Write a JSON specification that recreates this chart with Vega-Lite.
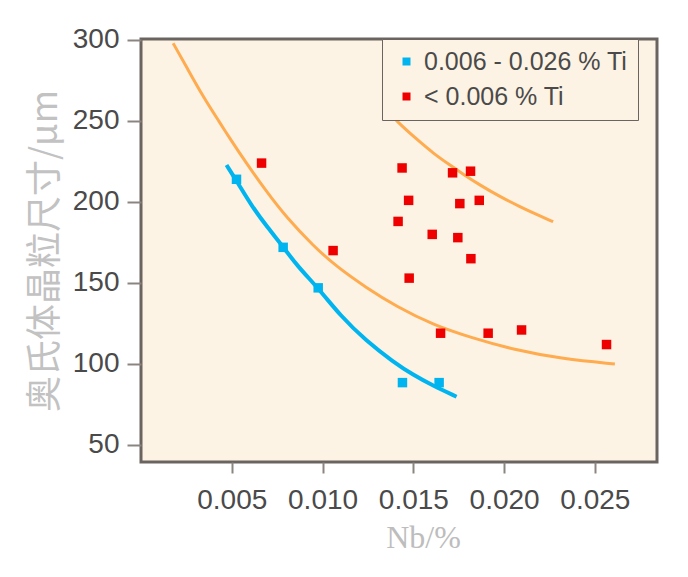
{
  "$schema": "https://vega.github.io/schema/vega-lite/v6.json",
  "width": 516,
  "height": 423,
  "autosize": "none",
  "padding": {"left": 141, "top": 39, "right": 31, "bottom": 115},
  "background": "white",
  "config": {
    "view": {"fill": "#fdf3e4", "stroke": "#6a6460", "strokeWidth": 3},
    "font": "Liberation Sans"
  },
  "datasets": {
    "points": [
      {"nb": 0.00664, "size": 224, "group": "< 0.006 % Ti"},
      {"nb": 0.01438, "size": 221, "group": "< 0.006 % Ti"},
      {"nb": 0.01716, "size": 218, "group": "< 0.006 % Ti"},
      {"nb": 0.01815, "size": 219, "group": "< 0.006 % Ti"},
      {"nb": 0.01474, "size": 201, "group": "< 0.006 % Ti"},
      {"nb": 0.01756, "size": 199, "group": "< 0.006 % Ti"},
      {"nb": 0.01863, "size": 201, "group": "< 0.006 % Ti"},
      {"nb": 0.01416, "size": 188, "group": "< 0.006 % Ti"},
      {"nb": 0.01604, "size": 180, "group": "< 0.006 % Ti"},
      {"nb": 0.01745, "size": 178, "group": "< 0.006 % Ti"},
      {"nb": 0.01817, "size": 165, "group": "< 0.006 % Ti"},
      {"nb": 0.01058, "size": 170, "group": "< 0.006 % Ti"},
      {"nb": 0.01477, "size": 153, "group": "< 0.006 % Ti"},
      {"nb": 0.0165, "size": 119, "group": "< 0.006 % Ti"},
      {"nb": 0.01912, "size": 119, "group": "< 0.006 % Ti"},
      {"nb": 0.02096, "size": 121, "group": "< 0.006 % Ti"},
      {"nb": 0.02564, "size": 112, "group": "< 0.006 % Ti"},
      {"nb": 0.00526, "size": 214, "group": "0.006 - 0.026 % Ti"},
      {"nb": 0.00783, "size": 172, "group": "0.006 - 0.026 % Ti"},
      {"nb": 0.00976, "size": 147, "group": "0.006 - 0.026 % Ti"},
      {"nb": 0.0144, "size": 88.5, "group": "0.006 - 0.026 % Ti"},
      {"nb": 0.01642, "size": 88.5, "group": "0.006 - 0.026 % Ti"}
    ],
    "curves": [
      {"curve": "blue", "nb": 0.00471, "size": 222.8},
      {"curve": "blue", "nb": 0.00535, "size": 211.5},
      {"curve": "blue", "nb": 0.00609, "size": 197.6},
      {"curve": "blue", "nb": 0.007, "size": 183.8},
      {"curve": "blue", "nb": 0.00783, "size": 172.4},
      {"curve": "blue", "nb": 0.00856, "size": 161.1},
      {"curve": "blue", "nb": 0.00985, "size": 145.7},
      {"curve": "blue", "nb": 0.01095, "size": 130.2},
      {"curve": "blue", "nb": 0.01242, "size": 114.0},
      {"curve": "blue", "nb": 0.01389, "size": 101.4},
      {"curve": "blue", "nb": 0.01499, "size": 93.2},
      {"curve": "blue", "nb": 0.01609, "size": 86.6},
      {"curve": "blue", "nb": 0.01738, "size": 79.8},
      {"curve": "low", "nb": 0.00177, "size": 298.0},
      {"curve": "low", "nb": 0.0025, "size": 283.5},
      {"curve": "low", "nb": 0.00342, "size": 265.0},
      {"curve": "low", "nb": 0.00434, "size": 249.0},
      {"curve": "low", "nb": 0.00489, "size": 239.3},
      {"curve": "low", "nb": 0.00581, "size": 223.8},
      {"curve": "low", "nb": 0.00691, "size": 206.4},
      {"curve": "low", "nb": 0.00801, "size": 190.5},
      {"curve": "low", "nb": 0.00948, "size": 173.0},
      {"curve": "low", "nb": 0.01077, "size": 160.1},
      {"curve": "low", "nb": 0.01242, "size": 147.0},
      {"curve": "low", "nb": 0.01407, "size": 135.4},
      {"curve": "low", "nb": 0.01609, "size": 124.1},
      {"curve": "low", "nb": 0.01829, "size": 115.9},
      {"curve": "low", "nb": 0.0205, "size": 108.9},
      {"curve": "low", "nb": 0.02325, "size": 103.0},
      {"curve": "low", "nb": 0.0261, "size": 100.0},
      {"curve": "high", "nb": 0.01343, "size": 258.0},
      {"curve": "high", "nb": 0.01415, "size": 249.0},
      {"curve": "high", "nb": 0.01518, "size": 238.8},
      {"curve": "high", "nb": 0.01609, "size": 230.1},
      {"curve": "high", "nb": 0.01701, "size": 222.8},
      {"curve": "high", "nb": 0.01774, "size": 217.2},
      {"curve": "high", "nb": 0.01866, "size": 210.5},
      {"curve": "high", "nb": 0.01977, "size": 203.3},
      {"curve": "high", "nb": 0.02087, "size": 197.1},
      {"curve": "high", "nb": 0.02179, "size": 192.3},
      {"curve": "high", "nb": 0.0227, "size": 187.8}
    ]
  },
  "encoding": {
    "x": {
      "field": "nb", "type": "quantitative",
      "scale": {"domain": [0, 0.02842], "nice": false, "zero": false},
      "axis": {
        "title": "Nb/%", "values": [0.005, 0.01, 0.015, 0.02, 0.025], "format": ".3f",
        "domain": false, "grid": false,
        "tickSize": 11, "tickWidth": 2, "tickColor": "#8a8580",
        "labelFont": "Liberation Sans", "labelFontSize": 28, "labelColor": "#4a4a4a", "labelPadding": 13,
        "labelFlush": false,
        "titleFont": "Liberation Serif", "titleFontSize": 32, "titleFontWeight": "normal", "titleColor": "#bdbdbd",
        "titlePadding": 8, "titleX": 282
      }
    },
    "y": {
      "field": "size", "type": "quantitative",
      "scale": {"domain": [39.5, 300.6], "nice": false, "zero": false},
      "axis": {
        "title": "奥氏体晶粒尺寸/μm", "values": [50, 100, 150, 200, 250, 300],
        "domain": false, "grid": false,
        "tickSize": 14, "tickWidth": 2, "tickColor": "#8a8580",
        "labelFont": "Liberation Sans", "labelFontSize": 28, "labelColor": "#4a4a4a", "labelPadding": 8,
        "labelFlush": false,
        "titleFont": "Noto Sans CJK SC", "titleFontSize": 36, "titleFontWeight": "normal", "titleColor": "#c2c2c2",
        "titlePadding": 8
      }
    }
  },
  "layer": [
    {
      "data": {"name": "curves"},
      "transform": [{"filter": "datum.curve === 'blue'"}],
      "mark": {"type": "line", "color": "#00b5ef", "strokeWidth": 4, "interpolate": "basis"},
      "encoding": {}
    },
    {
      "data": {"name": "curves"},
      "transform": [{"filter": "datum.curve !== 'blue'"}],
      "mark": {"type": "line", "color": "#ffab4f", "strokeWidth": 3, "interpolate": "basis"},
      "encoding": {"detail": {"field": "curve"}}
    },
    {
      "data": {"name": "points"},
      "mark": {"type": "square", "size": 90, "opacity": 1, "filled": true},
      "encoding": {
        "color": {
          "field": "group", "type": "nominal",
          "scale": {"domain": ["0.006 - 0.026 % Ti", "< 0.006 % Ti"], "range": ["#00b5ef", "#ee0000"]},
          "legend": {
            "orient": "none", "legendX": 241, "legendY": 0, "title": null,
            "padding": 10, "symbolOffset": 2, "labelOffset": 5, "labelLimit": 500,
            "labelFont": "Liberation Sans", "labelFontSize": 25, "labelColor": "#4a4a4a",
            "symbolType": "square", "symbolSize": 64, "symbolStrokeWidth": 0,
            "fillColor": "#fdf3e4", "strokeColor": "#6a6460",
            "rowPadding": 9,
            "encode": {"legend": {"update": {"strokeWidth": {"value": 3}}}}
          }
        }
      }
    }
  ]
}
